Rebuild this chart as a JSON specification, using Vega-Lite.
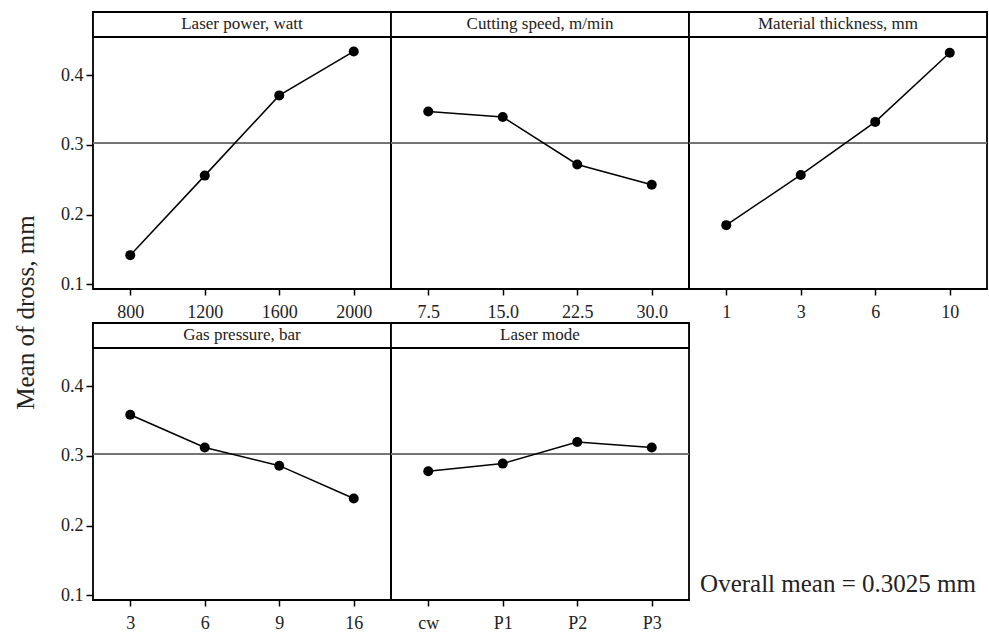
{
  "$schema": "https://vega.github.io/schema/vega-lite/v6.json",
  "padding": {"left": 12, "top": 10, "right": 2, "bottom": 2},
  "background": "white",
  "datasets": {
    "means": [
      {"factor": "Laser power, watt", "level": "800", "mean": 0.142},
      {"factor": "Laser power, watt", "level": "1200", "mean": 0.256},
      {"factor": "Laser power, watt", "level": "1600", "mean": 0.371},
      {"factor": "Laser power, watt", "level": "2000", "mean": 0.434},
      {"factor": "Cutting speed, m/min", "level": "7.5", "mean": 0.348},
      {"factor": "Cutting speed, m/min", "level": "15.0", "mean": 0.340},
      {"factor": "Cutting speed, m/min", "level": "22.5", "mean": 0.272},
      {"factor": "Cutting speed, m/min", "level": "30.0", "mean": 0.243},
      {"factor": "Material thickness, mm", "level": "1", "mean": 0.185},
      {"factor": "Material thickness, mm", "level": "3", "mean": 0.257},
      {"factor": "Material thickness, mm", "level": "6", "mean": 0.333},
      {"factor": "Material thickness, mm", "level": "10", "mean": 0.432},
      {"factor": "Gas pressure, bar", "level": "3", "mean": 0.359},
      {"factor": "Gas pressure, bar", "level": "6", "mean": 0.312},
      {"factor": "Gas pressure, bar", "level": "9", "mean": 0.286},
      {"factor": "Gas pressure, bar", "level": "16", "mean": 0.239},
      {"factor": "Laser mode", "level": "cw", "mean": 0.278},
      {"factor": "Laser mode", "level": "P1", "mean": 0.289},
      {"factor": "Laser mode", "level": "P2", "mean": 0.320},
      {"factor": "Laser mode", "level": "P3", "mean": 0.312}
    ]
  },
  "concat": [
    {
      "width": 298, "height": 277,
      "data": {"name": "means"},
      "transform": [{"filter": {"field": "factor", "equal": "Laser power, watt"}}],
      "layer": [
        {"mark": {"type": "rect", "fill": "white", "stroke": "black", "strokeWidth": 1.8},
         "encoding": {"y": {"datum": 0.4905, "type": "quantitative", "scale": {"domain": [0.0935, 0.4905], "nice": false, "zero": false}, "axis": {"values": [0.1, 0.2, 0.3, 0.4], "format": ".1f", "title": "Mean of dross, mm", "titleX": -68, "titleY": 300, "titleAngle": 270, "titleAlign": "center", "titleBaseline": "middle"}}, "y2": {"datum": 0.4547}}},
        {"transform": [{"aggregate": [{"op": "count", "as": "n"}], "groupby": ["factor"]}],
         "mark": {"type": "text", "font": "Liberation Serif", "fontSize": 17, "baseline": "middle", "color": "#222"},
         "encoding": {"text": {"field": "factor"}, "y": {"datum": 0.4726, "type": "quantitative", "scale": {"domain": [0.0935, 0.4905], "nice": false, "zero": false}, "axis": {"values": [0.1, 0.2, 0.3, 0.4], "format": ".1f", "title": "Mean of dross, mm", "titleX": -68, "titleY": 300, "titleAngle": 270, "titleAlign": "center", "titleBaseline": "middle"}}}},
        {"mark": {"type": "rule", "color": "#707070", "strokeWidth": 1.5},
         "encoding": {"y": {"datum": 0.3025, "type": "quantitative", "scale": {"domain": [0.0935, 0.4905], "nice": false, "zero": false}, "axis": {"values": [0.1, 0.2, 0.3, 0.4], "format": ".1f", "title": "Mean of dross, mm", "titleX": -68, "titleY": 300, "titleAngle": 270, "titleAlign": "center", "titleBaseline": "middle"}}}},
        {"mark": {"type": "line", "color": "black", "strokeWidth": 1.5},
         "encoding": {
           "x": {"field": "level", "type": "ordinal", "sort": null, "scale": {"type": "point", "padding": 0.5}, "axis": {"title": null}},
           "y": {"field": "mean", "type": "quantitative", "scale": {"domain": [0.0935, 0.4905], "nice": false, "zero": false},
                 "axis": {"values": [0.1, 0.2, 0.3, 0.4], "format": ".1f", "title": "Mean of dross, mm", "titleX": -68, "titleY": 300, "titleAngle": 270, "titleAlign": "center", "titleBaseline": "middle"}}}},
        {"mark": {"type": "point", "filled": true, "color": "black", "size": 100, "opacity": 1},
         "encoding": {
           "x": {"field": "level", "type": "ordinal", "sort": null, "scale": {"type": "point", "padding": 0.5}, "axis": {"title": null}},
           "y": {"field": "mean", "type": "quantitative", "scale": {"domain": [0.0935, 0.4905], "nice": false, "zero": false},
                 "axis": {"values": [0.1, 0.2, 0.3, 0.4], "format": ".1f", "title": "Mean of dross, mm", "titleX": -68, "titleY": 300, "titleAngle": 270, "titleAlign": "center", "titleBaseline": "middle"}}}}
      ]
    },
    {
      "width": 298, "height": 277,
      "data": {"name": "means"},
      "transform": [{"filter": {"field": "factor", "equal": "Cutting speed, m/min"}}],
      "layer": [
        {"mark": {"type": "rect", "fill": "white", "stroke": "black", "strokeWidth": 1.8},
         "encoding": {"y": {"datum": 0.4905, "type": "quantitative", "scale": {"domain": [0.0935, 0.4905], "nice": false, "zero": false}, "axis": null}, "y2": {"datum": 0.4547}}},
        {"transform": [{"aggregate": [{"op": "count", "as": "n"}], "groupby": ["factor"]}],
         "mark": {"type": "text", "font": "Liberation Serif", "fontSize": 17, "baseline": "middle", "color": "#222"},
         "encoding": {"text": {"field": "factor"}, "y": {"datum": 0.4726, "type": "quantitative", "scale": {"domain": [0.0935, 0.4905], "nice": false, "zero": false}, "axis": null}}},
        {"mark": {"type": "rule", "color": "#707070", "strokeWidth": 1.5},
         "encoding": {"y": {"datum": 0.3025, "type": "quantitative", "scale": {"domain": [0.0935, 0.4905], "nice": false, "zero": false}, "axis": null}}},
        {"mark": {"type": "line", "color": "black", "strokeWidth": 1.5},
         "encoding": {
           "x": {"field": "level", "type": "ordinal", "sort": null, "scale": {"type": "point", "padding": 0.5}, "axis": {"title": null}},
           "y": {"field": "mean", "type": "quantitative", "scale": {"domain": [0.0935, 0.4905], "nice": false, "zero": false}, "axis": null}}},
        {"mark": {"type": "point", "filled": true, "color": "black", "size": 100, "opacity": 1},
         "encoding": {
           "x": {"field": "level", "type": "ordinal", "sort": null, "scale": {"type": "point", "padding": 0.5}, "axis": {"title": null}},
           "y": {"field": "mean", "type": "quantitative", "scale": {"domain": [0.0935, 0.4905], "nice": false, "zero": false}, "axis": null}}}
      ]
    },
    {
      "width": 298, "height": 277,
      "data": {"name": "means"},
      "transform": [{"filter": {"field": "factor", "equal": "Material thickness, mm"}}],
      "layer": [
        {"mark": {"type": "rect", "fill": "white", "stroke": "black", "strokeWidth": 1.8},
         "encoding": {"y": {"datum": 0.4905, "type": "quantitative", "scale": {"domain": [0.0935, 0.4905], "nice": false, "zero": false}, "axis": null}, "y2": {"datum": 0.4547}}},
        {"transform": [{"aggregate": [{"op": "count", "as": "n"}], "groupby": ["factor"]}],
         "mark": {"type": "text", "font": "Liberation Serif", "fontSize": 17, "baseline": "middle", "color": "#222"},
         "encoding": {"text": {"field": "factor"}, "y": {"datum": 0.4726, "type": "quantitative", "scale": {"domain": [0.0935, 0.4905], "nice": false, "zero": false}, "axis": null}}},
        {"mark": {"type": "rule", "color": "#707070", "strokeWidth": 1.5},
         "encoding": {"y": {"datum": 0.3025, "type": "quantitative", "scale": {"domain": [0.0935, 0.4905], "nice": false, "zero": false}, "axis": null}}},
        {"mark": {"type": "line", "color": "black", "strokeWidth": 1.5},
         "encoding": {
           "x": {"field": "level", "type": "ordinal", "sort": null, "scale": {"type": "point", "padding": 0.5}, "axis": {"title": null}},
           "y": {"field": "mean", "type": "quantitative", "scale": {"domain": [0.0935, 0.4905], "nice": false, "zero": false}, "axis": null}}},
        {"mark": {"type": "point", "filled": true, "color": "black", "size": 100, "opacity": 1},
         "encoding": {
           "x": {"field": "level", "type": "ordinal", "sort": null, "scale": {"type": "point", "padding": 0.5}, "axis": {"title": null}},
           "y": {"field": "mean", "type": "quantitative", "scale": {"domain": [0.0935, 0.4905], "nice": false, "zero": false}, "axis": null}}}
      ]
    },
    {
      "width": 298, "height": 277,
      "data": {"name": "means"},
      "transform": [{"filter": {"field": "factor", "equal": "Gas pressure, bar"}}],
      "layer": [
        {"mark": {"type": "rect", "fill": "white", "stroke": "black", "strokeWidth": 1.8},
         "encoding": {"y": {"datum": 0.4905, "type": "quantitative", "scale": {"domain": [0.0935, 0.4905], "nice": false, "zero": false}, "axis": {"values": [0.1, 0.2, 0.3, 0.4], "format": ".1f", "title": null}}, "y2": {"datum": 0.4547}}},
        {"transform": [{"aggregate": [{"op": "count", "as": "n"}], "groupby": ["factor"]}],
         "mark": {"type": "text", "font": "Liberation Serif", "fontSize": 17, "baseline": "middle", "color": "#222"},
         "encoding": {"text": {"field": "factor"}, "y": {"datum": 0.4726, "type": "quantitative", "scale": {"domain": [0.0935, 0.4905], "nice": false, "zero": false}, "axis": {"values": [0.1, 0.2, 0.3, 0.4], "format": ".1f", "title": null}}}},
        {"mark": {"type": "rule", "color": "#707070", "strokeWidth": 1.5},
         "encoding": {"y": {"datum": 0.3025, "type": "quantitative", "scale": {"domain": [0.0935, 0.4905], "nice": false, "zero": false}, "axis": {"values": [0.1, 0.2, 0.3, 0.4], "format": ".1f", "title": null}}}},
        {"mark": {"type": "line", "color": "black", "strokeWidth": 1.5},
         "encoding": {
           "x": {"field": "level", "type": "ordinal", "sort": null, "scale": {"type": "point", "padding": 0.5}, "axis": {"title": null}},
           "y": {"field": "mean", "type": "quantitative", "scale": {"domain": [0.0935, 0.4905], "nice": false, "zero": false}, "axis": {"values": [0.1, 0.2, 0.3, 0.4], "format": ".1f", "title": null}}}},
        {"mark": {"type": "point", "filled": true, "color": "black", "size": 100, "opacity": 1},
         "encoding": {
           "x": {"field": "level", "type": "ordinal", "sort": null, "scale": {"type": "point", "padding": 0.5}, "axis": {"title": null}},
           "y": {"field": "mean", "type": "quantitative", "scale": {"domain": [0.0935, 0.4905], "nice": false, "zero": false}, "axis": {"values": [0.1, 0.2, 0.3, 0.4], "format": ".1f", "title": null}}}}
      ]
    },
    {
      "width": 298, "height": 277,
      "data": {"name": "means"},
      "transform": [{"filter": {"field": "factor", "equal": "Laser mode"}}],
      "layer": [
        {"mark": {"type": "rect", "fill": "white", "stroke": "black", "strokeWidth": 1.8},
         "encoding": {"y": {"datum": 0.4905, "type": "quantitative", "scale": {"domain": [0.0935, 0.4905], "nice": false, "zero": false}, "axis": null}, "y2": {"datum": 0.4547}}},
        {"transform": [{"aggregate": [{"op": "count", "as": "n"}], "groupby": ["factor"]}],
         "mark": {"type": "text", "font": "Liberation Serif", "fontSize": 17, "baseline": "middle", "color": "#222"},
         "encoding": {"text": {"field": "factor"}, "y": {"datum": 0.4726, "type": "quantitative", "scale": {"domain": [0.0935, 0.4905], "nice": false, "zero": false}, "axis": null}}},
        {"mark": {"type": "rule", "color": "#707070", "strokeWidth": 1.5},
         "encoding": {"y": {"datum": 0.3025, "type": "quantitative", "scale": {"domain": [0.0935, 0.4905], "nice": false, "zero": false}, "axis": null}}},
        {"mark": {"type": "line", "color": "black", "strokeWidth": 1.5},
         "encoding": {
           "x": {"field": "level", "type": "ordinal", "sort": null, "scale": {"type": "point", "padding": 0.5}, "axis": {"title": null}},
           "y": {"field": "mean", "type": "quantitative", "scale": {"domain": [0.0935, 0.4905], "nice": false, "zero": false}, "axis": null}}},
        {"mark": {"type": "point", "filled": true, "color": "black", "size": 100, "opacity": 1},
         "encoding": {
           "x": {"field": "level", "type": "ordinal", "sort": null, "scale": {"type": "point", "padding": 0.5}, "axis": {"title": null}},
           "y": {"field": "mean", "type": "quantitative", "scale": {"domain": [0.0935, 0.4905], "nice": false, "zero": false}, "axis": null}}}
      ]
    },
    {
      "width": 298, "height": 277,
      "view": {"stroke": null},
      "data": {"values": [{"label": "Overall mean = 0.3025 mm"}]},
      "mark": {"type": "text", "font": "Liberation Serif", "fontSize": 25, "baseline": "middle", "color": "#222"},
      "encoding": {
        "text": {"field": "label"},
        "y": {"datum": 0.117, "type": "quantitative", "scale": {"domain": [0.0935, 0.4905], "nice": false, "zero": false}, "axis": null}
      }
    }
  ],
  "columns": 3,
  "spacing": {"row": 34, "column": 0},
  "bounds": "flush",
  "config": {
    "view": {"stroke": "black", "strokeWidth": 1.8},
    "axis": {
      "grid": false,
      "domain": false,
      "labelFont": "Liberation Serif",
      "labelFontSize": 18,
      "labelColor": "#222",
      "tickColor": "black",
      "tickWidth": 1.5,
      "titleFont": "Liberation Serif",
      "titleFontSize": 25,
      "titleFontWeight": "normal",
      "titleColor": "#222"
    },
    "axisX": {"tickSize": 6, "labelPadding": 8, "labelAngle": 0},
    "axisY": {"tickSize": 7, "labelPadding": 3}
  }
}
